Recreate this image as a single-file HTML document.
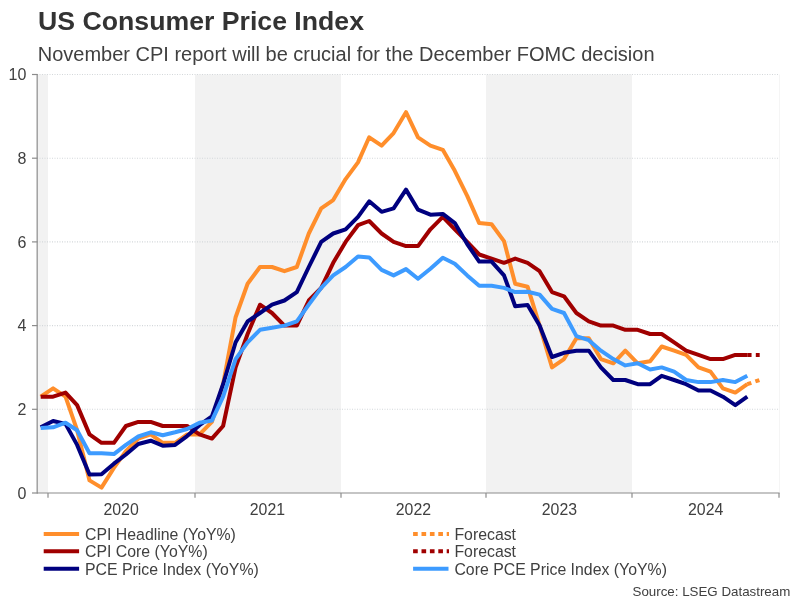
<!DOCTYPE html>
<html><head><meta charset="utf-8"><title>US Consumer Price Index</title>
<style>
html,body{margin:0;padding:0;background:#fff;}
body{width:801px;height:601px;overflow:hidden;font-family:"Liberation Sans",Arial,sans-serif;}
svg{display:block;}
text{font-family:"Liberation Sans",Arial,sans-serif;}
</style></head><body>
<svg width="801" height="601" viewBox="0 0 801 601">
<rect width="801" height="601" fill="#fff"/>
<rect x="38.0" y="74.5" width="10.0" height="418.5" fill="#F2F2F2"/>
<rect x="195.0" y="74.5" width="146.0" height="418.5" fill="#F2F2F2"/>
<rect x="486.0" y="74.5" width="146.0" height="418.5" fill="#F2F2F2"/>
<line x1="37" x2="779.5" y1="409.3" y2="409.3" stroke="#d3d7da" stroke-width="1.1" stroke-dasharray="1,1.5"/>
<line x1="37" x2="779.5" y1="325.6" y2="325.6" stroke="#d3d7da" stroke-width="1.1" stroke-dasharray="1,1.5"/>
<line x1="37" x2="779.5" y1="241.9" y2="241.9" stroke="#d3d7da" stroke-width="1.1" stroke-dasharray="1,1.5"/>
<line x1="37" x2="779.5" y1="158.2" y2="158.2" stroke="#d3d7da" stroke-width="1.1" stroke-dasharray="1,1.5"/>
<line x1="37" x2="779.5" y1="74.5" y2="74.5" stroke="#d3d7da" stroke-width="1.1" stroke-dasharray="1,1.5"/>
<line x1="779.5" x2="779.5" y1="74.5" y2="493.0" stroke="#f5f5f5" stroke-width="1"/>
<path d="M40.7,396.7 L53.1,388.4 L65.5,396.7 L77.1,430.2 L89.5,480.4 L101.5,487.6 L113.9,467.9 L125.9,451.1 L138.3,438.6 L150.7,434.4 L162.7,442.8 L175.1,442.8 L187.1,434.4 L199.5,434.4 L211.9,421.9 L223.1,384.2 L235.6,317.2 L247.6,283.8 L260.0,267.0 L272.0,267.0 L284.4,271.2 L296.8,267.0 L308.8,233.5 L321.2,208.4 L333.2,200.1 L345.6,179.1 L358.0,162.4 L369.2,137.3 L381.6,145.6 L393.6,133.1 L406.0,112.2 L418.0,137.3 L430.4,145.6 L442.8,149.8 L454.8,170.8 L467.2,195.9 L479.2,223.1 L491.6,224.3 L504.0,241.1 L515.2,283.8 L527.6,286.7 L539.6,325.6 L552.0,367.4 L564.0,359.1 L576.4,338.2 L588.8,338.2 L600.9,359.1 L613.3,363.3 L625.3,350.7 L637.7,363.3 L650.1,361.2 L661.7,346.5 L674.1,350.7 L686.1,354.9 L698.5,367.4 L710.5,371.6 L722.9,388.4 L735.3,392.6 L747.3,384.2" fill="none" stroke="#FF8E2B" stroke-width="4" stroke-linejoin="round" stroke-linecap="butt"/>
<path d="M40.7,396.7 L53.1,396.7 L65.5,392.6 L77.1,405.1 L89.5,434.4 L101.5,442.8 L113.9,442.8 L125.9,426.0 L138.3,421.9 L150.7,421.9 L162.7,426.0 L175.1,426.0 L187.1,426.0 L199.5,434.4 L211.9,438.6 L223.1,426.0 L235.6,367.4 L247.6,334.0 L260.0,304.7 L272.0,313.0 L284.4,325.6 L296.8,325.6 L308.8,300.5 L321.2,287.9 L333.2,262.8 L345.6,241.9 L358.0,225.2 L369.2,221.0 L381.6,233.5 L393.6,241.9 L406.0,246.1 L418.0,246.1 L430.4,229.3 L442.8,216.8 L454.8,229.3 L467.2,241.9 L479.2,254.5 L491.6,258.6 L504.0,262.8 L515.2,258.6 L527.6,262.8 L539.6,271.2 L552.0,292.1 L564.0,296.3 L576.4,313.0 L588.8,321.4 L600.9,325.6 L613.3,325.6 L625.3,329.8 L637.7,329.8 L650.1,334.0 L661.7,334.0 L674.1,342.3 L686.1,350.7 L698.5,354.9 L710.5,359.1 L722.9,359.1 L735.3,354.9 L747.3,354.9" fill="none" stroke="#A00000" stroke-width="4" stroke-linejoin="round" stroke-linecap="butt"/>
<path d="M40.7,427.3 L53.1,421.0 L65.5,423.9 L77.1,444.9 L89.5,474.6 L101.5,474.2 L113.9,463.7 L125.9,454.5 L138.3,444.0 L150.7,440.7 L162.7,445.7 L175.1,444.9 L187.1,436.1 L199.5,425.2 L211.9,416.4 L223.1,384.2 L235.6,342.3 L247.6,321.4 L260.0,313.0 L272.0,304.7 L284.4,300.5 L296.8,292.1 L308.8,267.0 L321.2,241.9 L333.2,233.5 L345.6,229.3 L358.0,216.8 L369.2,201.3 L381.6,211.8 L393.6,208.4 L406.0,189.6 L418.0,209.7 L430.4,214.7 L442.8,213.9 L454.8,223.1 L467.2,244.0 L479.2,261.6 L491.6,261.6 L504.0,275.4 L515.2,306.3 L527.6,305.1 L539.6,325.6 L552.0,357.0 L564.0,352.8 L576.4,350.7 L588.8,350.7 L600.9,367.4 L613.3,380.0 L625.3,380.0 L637.7,384.2 L650.1,384.2 L661.7,375.8 L674.1,380.0 L686.1,384.2 L698.5,390.5 L710.5,390.5 L722.9,396.7 L735.3,405.1 L747.3,396.7" fill="none" stroke="#00007F" stroke-width="4" stroke-linejoin="round" stroke-linecap="butt"/>
<path d="M40.7,428.1 L53.1,427.3 L65.5,422.7 L77.1,430.2 L89.5,453.2 L101.5,453.2 L113.9,454.1 L125.9,444.9 L138.3,436.5 L150.7,432.3 L162.7,435.2 L175.1,432.3 L187.1,429.0 L199.5,422.7 L211.9,420.6 L223.1,396.7 L235.6,359.1 L247.6,342.3 L260.0,329.8 L272.0,327.7 L284.4,325.6 L296.8,321.4 L308.8,304.7 L321.2,287.9 L333.2,275.4 L345.6,267.0 L358.0,256.5 L369.2,257.4 L381.6,269.9 L393.6,275.4 L406.0,269.1 L418.0,278.7 L430.4,268.7 L442.8,257.8 L454.8,263.7 L467.2,275.4 L479.2,285.8 L491.6,285.8 L504.0,287.9 L515.2,292.1 L527.6,291.7 L539.6,294.6 L552.0,308.9 L564.0,313.0 L576.4,336.1 L588.8,340.2 L600.9,350.7 L613.3,359.1 L625.3,365.4 L637.7,363.3 L650.1,369.5 L661.7,367.4 L674.1,371.6 L686.1,380.0 L698.5,382.1 L710.5,382.1 L722.9,380.0 L735.3,382.1 L747.3,375.8" fill="none" stroke="#3D9BFF" stroke-width="4" stroke-linejoin="round" stroke-linecap="butt"/>
<path d="M747.3,384.2 L759.7,380.0" fill="none" stroke="#FF8E2B" stroke-width="4" stroke-dasharray="4.25,4.25"/>
<path d="M747.3,354.9 L759.7,354.9" fill="none" stroke="#A00000" stroke-width="4" stroke-dasharray="4.25,4.25"/>
<line x1="37.2" x2="37.2" y1="74.0" y2="493.6" stroke="#9a9a9a" stroke-width="1.4"/>
<line x1="37" x2="779.6" y1="493.0" y2="493.0" stroke="#8c8c8c" stroke-width="1.2"/>
<line x1="32" x2="37.5" y1="493.0" y2="493.0" stroke="#8c8c8c" stroke-width="1.2"/>
<text x="26.4" y="498.8" font-size="16" fill="#404040" text-anchor="end">0</text>
<line x1="32" x2="37.5" y1="409.3" y2="409.3" stroke="#8c8c8c" stroke-width="1.2"/>
<text x="26.4" y="415.1" font-size="16" fill="#404040" text-anchor="end">2</text>
<line x1="32" x2="37.5" y1="325.6" y2="325.6" stroke="#8c8c8c" stroke-width="1.2"/>
<text x="26.4" y="331.4" font-size="16" fill="#404040" text-anchor="end">4</text>
<line x1="32" x2="37.5" y1="241.9" y2="241.9" stroke="#8c8c8c" stroke-width="1.2"/>
<text x="26.4" y="247.7" font-size="16" fill="#404040" text-anchor="end">6</text>
<line x1="32" x2="37.5" y1="158.2" y2="158.2" stroke="#8c8c8c" stroke-width="1.2"/>
<text x="26.4" y="164.0" font-size="16" fill="#404040" text-anchor="end">8</text>
<line x1="32" x2="37.5" y1="74.5" y2="74.5" stroke="#8c8c8c" stroke-width="1.2"/>
<text x="26.4" y="80.3" font-size="16" fill="#404040" text-anchor="end">10</text>
<line x1="48.0" x2="48.0" y1="493.0" y2="497.8" stroke="#8c8c8c" stroke-width="1.2"/>
<text x="121.1" y="515" font-size="15.85" fill="#404040" text-anchor="middle">2020</text>
<line x1="195.0" x2="195.0" y1="493.0" y2="497.8" stroke="#8c8c8c" stroke-width="1.2"/>
<text x="267.4" y="515" font-size="15.85" fill="#404040" text-anchor="middle">2021</text>
<line x1="341.0" x2="341.0" y1="493.0" y2="497.8" stroke="#8c8c8c" stroke-width="1.2"/>
<text x="413.4" y="515" font-size="15.85" fill="#404040" text-anchor="middle">2022</text>
<line x1="486.0" x2="486.0" y1="493.0" y2="497.8" stroke="#8c8c8c" stroke-width="1.2"/>
<text x="559.4" y="515" font-size="15.85" fill="#404040" text-anchor="middle">2023</text>
<line x1="632.0" x2="632.0" y1="493.0" y2="497.8" stroke="#8c8c8c" stroke-width="1.2"/>
<text x="705.7" y="515" font-size="15.85" fill="#404040" text-anchor="middle">2024</text>
<line x1="779.0" x2="779.0" y1="493.0" y2="497.8" stroke="#8c8c8c" stroke-width="1.2"/>
<text x="38.1" y="29.5" font-size="26.67" font-weight="bold" fill="#333">US Consumer Price Index</text>
<text x="37.7" y="60.8" font-size="20" fill="#404040">November CPI report will be crucial for the December FOMC decision</text>
<line x1="43.7" x2="79.1" y1="533.9" y2="533.9" stroke="#FF8E2B" stroke-width="4"/>
<text x="85.0" y="540.2" font-size="15.85" fill="#404040">CPI Headline (YoY%)</text>
<line x1="43.7" x2="79.1" y1="551.2" y2="551.2" stroke="#A00000" stroke-width="4"/>
<text x="85.0" y="557.0" font-size="15.85" fill="#404040">CPI Core (YoY%)</text>
<line x1="43.7" x2="79.1" y1="568.8" y2="568.8" stroke="#00007F" stroke-width="4"/>
<text x="85.0" y="575.2" font-size="15.85" fill="#404040">PCE Price Index (YoY%)</text>
<line x1="413.1" x2="449.0" y1="533.9" y2="533.9" stroke="#FF8E2B" stroke-width="4" stroke-dasharray="4.65,3.75"/>
<text x="454.4" y="540.2" font-size="15.85" fill="#404040">Forecast</text>
<line x1="413.1" x2="449.0" y1="551.2" y2="551.2" stroke="#A00000" stroke-width="4" stroke-dasharray="4.65,3.75"/>
<text x="454.4" y="557.0" font-size="15.85" fill="#404040">Forecast</text>
<line x1="413.1" x2="448.5" y1="568.8" y2="568.8" stroke="#3D9BFF" stroke-width="4"/>
<text x="454.4" y="575.2" font-size="15.85" fill="#404040">Core PCE Price Index (YoY%)</text>
<text x="790.3" y="595.6" font-size="13.33" fill="#404040" text-anchor="end">Source: LSEG Datastream</text>
</svg></body></html>
